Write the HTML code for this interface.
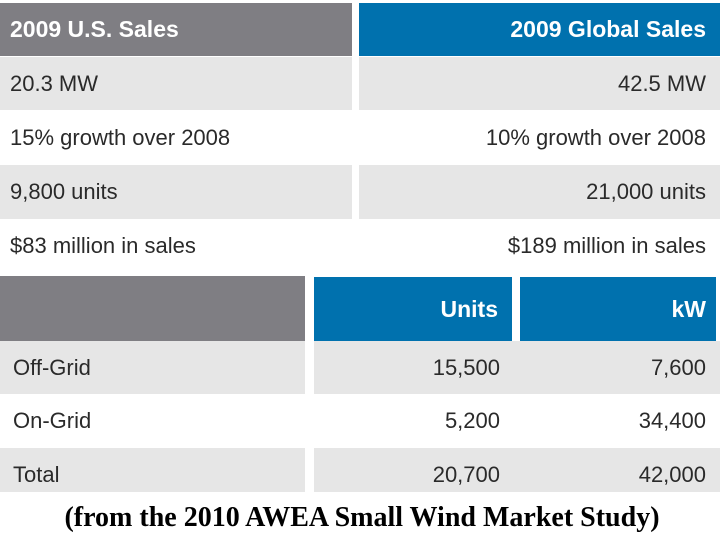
<!DOCTYPE html>
<html><head><meta charset="utf-8"><style>
body{margin:0;width:720px;height:540px;background:#fff;position:relative;overflow:hidden;font-family:"Liberation Sans",Arial,sans-serif;color:#2a2a2a}
.c{position:absolute;box-sizing:border-box;font-size:22px;display:flex;align-items:center;padding:0 14px 0 10px;white-space:nowrap}
.l{justify-content:flex-start}.r{justify-content:flex-end}
.g{background:#7f7e83;color:#fff;font-weight:bold;font-size:23px}
.b{background:#0071ae;color:#fff;font-weight:bold;font-size:23px}
.s{background:#e6e6e6}
.cap{position:absolute;left:0;width:724px;top:502px;text-align:center;font-family:"Liberation Serif",serif;font-weight:bold;font-size:28px;color:#000}
</style></head><body>
<div class="c l g" style="left:0;top:3px;width:352px;height:53px">2009 U.S. Sales</div>
<div class="c r b" style="left:359px;top:3px;width:361px;height:53px">2009 Global Sales</div>
<div class="c l s" style="left:0;top:57px;width:352px;height:53px">20.3 MW</div>
<div class="c r s" style="left:359px;top:57px;width:361px;height:53px">42.5 MW</div>
<div class="c l" style="left:0;top:111px;width:352px;height:54px">15% growth over 2008</div>
<div class="c r" style="left:359px;top:111px;width:361px;height:54px">10% growth over 2008</div>
<div class="c l s" style="left:0;top:165px;width:352px;height:54px">9,800 units</div>
<div class="c r s" style="left:359px;top:165px;width:361px;height:54px">21,000 units</div>
<div class="c l" style="left:0;top:219px;width:352px;height:54px">$83 million in sales</div>
<div class="c r" style="left:359px;top:219px;width:361px;height:54px">$189 million in sales</div>

<div class="c l g" style="left:0;top:276px;width:305px;height:65px"></div>
<div class="c r b" style="left:314px;top:277px;width:198px;height:64px">Units</div>
<div class="c r b" style="left:520px;top:277px;width:196px;height:64px;padding-right:10px">kW</div>
<div class="c l s" style="left:0;top:341px;width:305px;height:53px;padding-left:13px">Off-Grid</div>
<div class="c r s" style="left:314px;top:341px;width:406px;height:53px;padding-right:220px">15,500</div>
<div class="c r" style="left:520px;top:341px;width:200px;height:53px;background:transparent">7,600</div>
<div class="c l" style="left:0;top:394px;width:305px;height:54px;padding-left:13px">On-Grid</div>
<div class="c r" style="left:314px;top:394px;width:198px;height:54px;padding-right:12px">5,200</div>
<div class="c r" style="left:520px;top:394px;width:200px;height:54px">34,400</div>
<div class="c l s" style="left:0;top:448px;width:305px;height:44px;padding-top:10px;padding-left:13px">Total</div>
<div class="c r s" style="left:314px;top:448px;width:406px;height:44px;padding-top:10px;padding-right:220px">20,700</div>
<div class="c r" style="left:520px;top:448px;width:200px;height:44px;padding-top:10px;background:transparent">42,000</div>

<div class="cap">(from the 2010 AWEA Small Wind Market Study)</div>
</body></html>
